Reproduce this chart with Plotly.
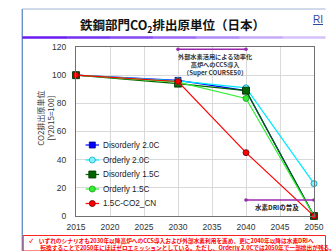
import plotly.graph_objects as go

# ---------------- data ----------------
years = [2015, 2030, 2040, 2050]
disorderly_20 = [100, 96.3, 89, 0]
orderly_20 = [100, 96, 91, 23]
disorderly_15 = [100, 94, 89, 0]
orderly_15 = [100, 95, 83.5, 0]
co2_cn = [100, 95.5, 45, 0]

series_names = ["Disorderly 2.0C", "Orderly 2.0C", "Disorderly 1.5C", "Orderly 1.5C", "1.5C-CO2_CN"]
series_values = [disorderly_20, orderly_20, disorderly_15, orderly_15, co2_cn]

x_ticks = [2015, 2020, 2025, 2030, 2035, 2040, 2045, 2050]
y_ticks = [0, 20, 40, 60, 80, 100, 120]

title_text = "鉄鋼部門CO<sub>2</sub>排出原単位（日本）"
ylabel_text = "CO2排出原単位<br>[Y2015=100]"
note_top = "外部水素活用による効率化<br>高炉へのCCS導入<br>（Super COURSE50）"
note_bottom = "水素DRIの普及"
box_line1 = "✓\u3000いずれのシナリオも2030年以降高炉へのCCS導入および外部水素利用を進め、更に2040年以降は水素DRIへ"
box_line2 = "\u3000\u3000転換することで2050年にほぼゼロエミッションとしている。ただし、Orderly 2.0Cでは2050年で一部排出が残る。"
logo_text = "RI"

# ---------------- styles ----------------
styles = [
    dict(line=dict(color="#0000ff", width=1.2), marker=dict(symbol="square", size=6, color="#0000ff", line=dict(color="#000080", width=0.8))),
    dict(line=dict(color="#00e8ff", width=1.2), marker=dict(symbol="circle", size=6, color="#80f4ff", line=dict(color="#10a8c0", width=1))),
    dict(line=dict(color="#006400", width=1.2), marker=dict(symbol="square", size=7, color="#006400", line=dict(color="#003000", width=0.8))),
    dict(line=dict(color="#33ee33", width=1.2), marker=dict(symbol="circle", size=6, color="#33ee33", line=dict(color="#1a9a1a", width=0.8))),
    dict(line=dict(color="#ff0000", width=1.2), marker=dict(symbol="circle", size=6, color="#ff0000", line=dict(color="#600000", width=0.8))),
]

FONT = "Liberation Sans, Arial, Noto Sans CJK JP"
JFONT = "Noto Sans CJK JP, Liberation Sans"
ARROW = "#9b27af"

W, H = 336, 251
L, R, T, B = 76, 12, 47, 35
PW, PH = W - L - R, H - T - B


def px(x):
    return (x - L) / PW


def py(y):
    return (H - B - y) / PH


def ydata(ypix):
    return (H - B - ypix) / PH * 120


fig = go.Figure()
for name, vals, st in zip(series_names, series_values, styles):
    fig.add_trace(go.Scatter(x=years, y=vals, mode="lines+markers", name=name,
                             line=st["line"], marker=st["marker"], showlegend=False,
                             cliponaxis=False))

shapes = []
annotations = []

# manual legend (compact spacing)
leg_y = [145, 160, 174.5, 189, 203.5]
for name, ly, st in zip(series_names, leg_y, styles):
    shapes.append(dict(type="line", xref="paper", yref="paper", x0=px(86), x1=px(100), y0=py(ly), y1=py(ly),
                       line=dict(color=st["line"]["color"], width=1.2)))
    m = st["marker"]
    s = m["size"] / 2
    shapes.append(dict(type="rect" if m["symbol"] == "square" else "circle",
                       xref="paper", yref="paper", xsizemode="pixel", ysizemode="pixel",
                       xanchor=px(93), yanchor=py(ly), x0=-s, x1=s, y0=-s, y1=s,
                       fillcolor=m["color"], line=dict(color=m["line"]["color"], width=0.8)))
    annotations.append(dict(xref="paper", yref="paper", x=px(102), y=py(ly), text=name, showarrow=False,
                            xanchor="left", yanchor="middle", font=dict(family=FONT, size=8.2, color="#222")))

# double arrows drawn as shapes (line + end dots)
for (xa, xb, ypix) in [(2030, 2040, 49.3), (2040, 2050, 200)]:
    yv = ydata(ypix)
    shapes.append(dict(type="line", xref="x", yref="y", x0=xa, x1=xb, y0=yv, y1=yv,
                       line=dict(color=ARROW, width=1.5)))
    for xe in (xa, xb):
        shapes.append(dict(type="circle", xref="x", yref="y", xsizemode="pixel", ysizemode="pixel",
                           xanchor=xe, yanchor=yv, x0=-1.8, x1=1.8, y0=-1.8, y1=1.8,
                           fillcolor=ARROW, line=dict(color=ARROW, width=0)))

# slide decoration
shapes.append(dict(type="line", xref="paper", yref="paper", x0=px(20), x1=px(20), y0=py(9), y1=py(251),
                   line=dict(color="#4f7fc0", width=1.2)))
shapes.append(dict(type="line", xref="paper", yref="paper", x0=px(20), x1=px(336), y0=py(9), y1=py(9),
                   line=dict(color="#9fb4d4", width=1)))
grad = ["#6a1cf0", "#7330f0", "#8448f2", "#9a66f4", "#b08af6", "#c4aaf8", "#d4c2fa"]
seg = (336 - 20) / len(grad)
for i, c in enumerate(grad):
    shapes.append(dict(type="line", xref="paper", yref="paper", x0=px(20 + i * seg), x1=px(min(336, 20 + (i + 1) * seg + 1)),
                       y0=py(37.5), y1=py(37.5), line=dict(color=c, width=2.5)))
shapes.append(dict(type="rect", xref="paper", yref="paper", x0=px(21), x1=px(336), y0=py(235.5), y1=py(251),
                   line=dict(color="#ff2020", width=1), fillcolor="rgba(0,0,0,0)"))

annotations += [
    dict(xref="paper", yref="paper", x=px(177), y=py(25), text="<b>" + title_text + "</b>", showarrow=False,
         xanchor="center", yanchor="middle", font=dict(family=JFONT, size=12.5, color="#111")),
    dict(xref="paper", yref="paper", x=px(335.5), y=py(19), text="<u>" + logo_text + "</u>", showarrow=False,
         xanchor="right", yanchor="middle", font=dict(family=FONT, size=10, color="#2a48a8")),
    dict(xref="paper", yref="paper", x=px(43.5), y=py(118), text=ylabel_text, showarrow=False, textangle=-90,
         xanchor="center", yanchor="middle", font=dict(family=JFONT, size=8, color="#333")),
    dict(xref="x", yref="y", x=2035.5, y=ydata(64), text="<b>" + note_top + "</b>", showarrow=False,
         xanchor="center", yanchor="middle", font=dict(family=JFONT, size=6.2, color="#333")),
    dict(xref="x", yref="y", x=2044.5, y=ydata(207.3), text="<b>" + note_bottom + "</b>", showarrow=False,
         xanchor="center", yanchor="middle", font=dict(family=JFONT, size=6.5, color="#222")),
    # red box text
    dict(xref="paper", yref="paper", x=px(24.5), y=py(244.2), text="<b>" + box_line1 + "<br>" + box_line2 + "</b>",
         showarrow=False, align="left", xanchor="left", yanchor="middle",
         font=dict(family=JFONT, size=5.7, color="#ff0000")),
]

fig.update_layout(
    width=W, height=H,
    margin=dict(l=L, r=R, t=T, b=B, pad=0),
    paper_bgcolor="white", plot_bgcolor="white",
    showlegend=False,
    shapes=shapes, annotations=annotations,
    font=dict(family=FONT, size=8, color="#333"),
)
fig.update_xaxes(range=[2015, 2050], tickvals=x_ticks, ticktext=[str(v) for v in x_ticks],
                 showgrid=True, gridcolor="#d9d9d9", gridwidth=1, zeroline=False,
                 showline=True, linecolor="#707070", linewidth=1, mirror=True,
                 tickfont=dict(family=FONT, size=8.5, color="#333"), ticks="", ticklabelstandoff=3)
fig.update_yaxes(range=[0, 120], tickvals=y_ticks, ticktext=[str(v) for v in y_ticks],
                 showgrid=True, gridcolor="#d9d9d9", gridwidth=1, zeroline=False,
                 showline=True, linecolor="#707070", linewidth=1, mirror=True,
                 tickfont=dict(family=FONT, size=8.5, color="#333"), ticks="", ticklabelstandoff=7)

fig.write_html(
    "out.html",
    config={"displayModeBar": False},
    post_script="document.body.style.margin='0';document.body.style.overflow='hidden';"
                "document.documentElement.style.overflow='hidden';",
)
